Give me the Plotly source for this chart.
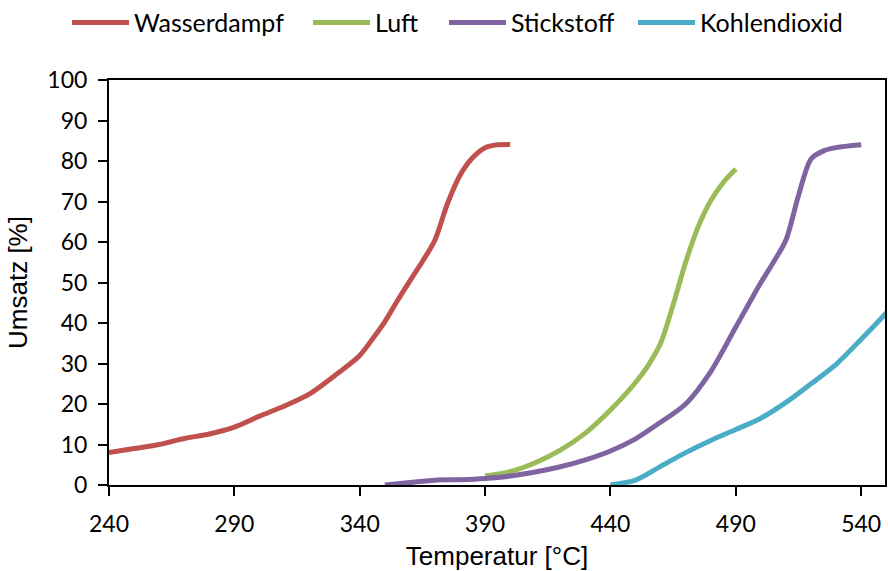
import plotly.graph_objects as go

# Umsatz (%) über der Temperatur (°C) für verschiedene Atmosphären
t_wasserdampf = [240, 250, 260, 270, 280, 290, 300, 310, 320, 330, 340, 345, 350, 355, 360, 365, 370, 375, 380, 385, 390, 395, 400]
u_wasserdampf = [8.0, 9.0, 10.0, 11.5, 12.6, 14.3, 17.0, 19.5, 22.5, 27.0, 32.0, 36.0, 40.3, 45.5, 50.4, 55.2, 60.5, 69.5, 76.5, 80.8, 83.3, 84.0, 84.1]

t_luft = [390, 400, 410, 420, 430, 440, 450, 455, 460, 465, 470, 475, 480, 485, 490]
u_luft = [2.2, 3.3, 5.5, 8.6, 12.8, 18.5, 25.3, 29.5, 35.0, 44.5, 55.0, 63.8, 70.2, 74.7, 78.0]

t_stickstoff = [350, 360, 370, 380, 390, 400, 410, 420, 430, 440, 450, 460, 470, 480, 490, 500, 505, 510, 515, 520, 525, 530, 540]
u_stickstoff = [0.0, 0.6, 1.2, 1.3, 1.6, 2.2, 3.2, 4.5, 6.2, 8.4, 11.4, 15.5, 20.0, 28.0, 39.0, 50.0, 55.0, 60.5, 71.5, 80.5, 82.5, 83.3, 84.0]

t_kohlendioxid = [440, 450, 460, 470, 480, 490, 500, 510, 520, 530, 540, 550, 555]
u_kohlendioxid = [0.0, 1.2, 4.6, 8.0, 11.0, 13.7, 16.5, 20.4, 25.0, 29.8, 36.0, 42.5, 46.0]

x_ticks = [240, 290, 340, 390, 440, 490, 540]
y_ticks = [0, 10, 20, 30, 40, 50, 60, 70, 80, 90, 100]

series = [
    ("Wasserdampf", t_wasserdampf, u_wasserdampf, "#C0504D"),
    ("Luft", t_luft, u_luft, "#9BBB59"),
    ("Stickstoff", t_stickstoff, u_stickstoff, "#8064A2"),
    ("Kohlendioxid", t_kohlendioxid, u_kohlendioxid, "#4BACC6"),
]

# one legend box per series so each entry sits at its own left edge
legend_ids = ["legend", "legend2", "legend3", "legend4"]
legend_left_px = [67, 308, 444, 633]

fig = go.Figure()
for (name, xs, ys, color), lid in zip(series, legend_ids):
    fig.add_trace(go.Scatter(
        x=xs, y=ys, name=name, mode="lines", legend=lid,
        line=dict(color=color, width=5, shape="spline", smoothing=0.8),
    ))

tick_font = dict(family="Lato, sans-serif", size=23, color="#000000")
title_font = dict(family="Liberation Sans, Arial, sans-serif", size=26, color="#000000")
legend_font = dict(family="Lato, sans-serif", size=25, color="#000000")

legend_layout = {}
for lid, left in zip(legend_ids, legend_left_px):
    legend_layout[lid] = dict(
        orientation="h", xref="container", yref="container",
        x=left / 888, xanchor="left", y=0.96, yanchor="middle",
        font=legend_font, itemwidth=57,
        bgcolor="rgba(0,0,0,0)",
    )

fig.update_layout(
    width=888, height=571,
    margin=dict(l=109, r=1, t=80, b=86),
    paper_bgcolor="#FFFFFF", plot_bgcolor="#FFFFFF",
    showlegend=True,
    **legend_layout,
    xaxis=dict(
        range=[240, 549.5], tickvals=x_ticks, ticktext=[str(v) for v in x_ticks],
        showgrid=False, zeroline=False,
        showline=True, linecolor="#000000", linewidth=2, mirror=True,
        ticks="outside", ticklen=9, tickwidth=2, tickcolor="#000000",
        tickfont=tick_font, ticklabelstandoff=8,
        title=dict(text="Temperatur [°C]", font=title_font, standoff=14),
    ),
    yaxis=dict(
        range=[0, 100], tickvals=y_ticks,
        showgrid=False, zeroline=False,
        showline=True, linecolor="#000000", linewidth=2, mirror=True,
        ticks="outside", ticklen=9, tickwidth=2, tickcolor="#000000",
        tickfont=tick_font, ticklabelstandoff=6,
        title=dict(text="Umsatz [%]", font=title_font, standoff=12),
    ),
)

fig.write_html("out.html")
